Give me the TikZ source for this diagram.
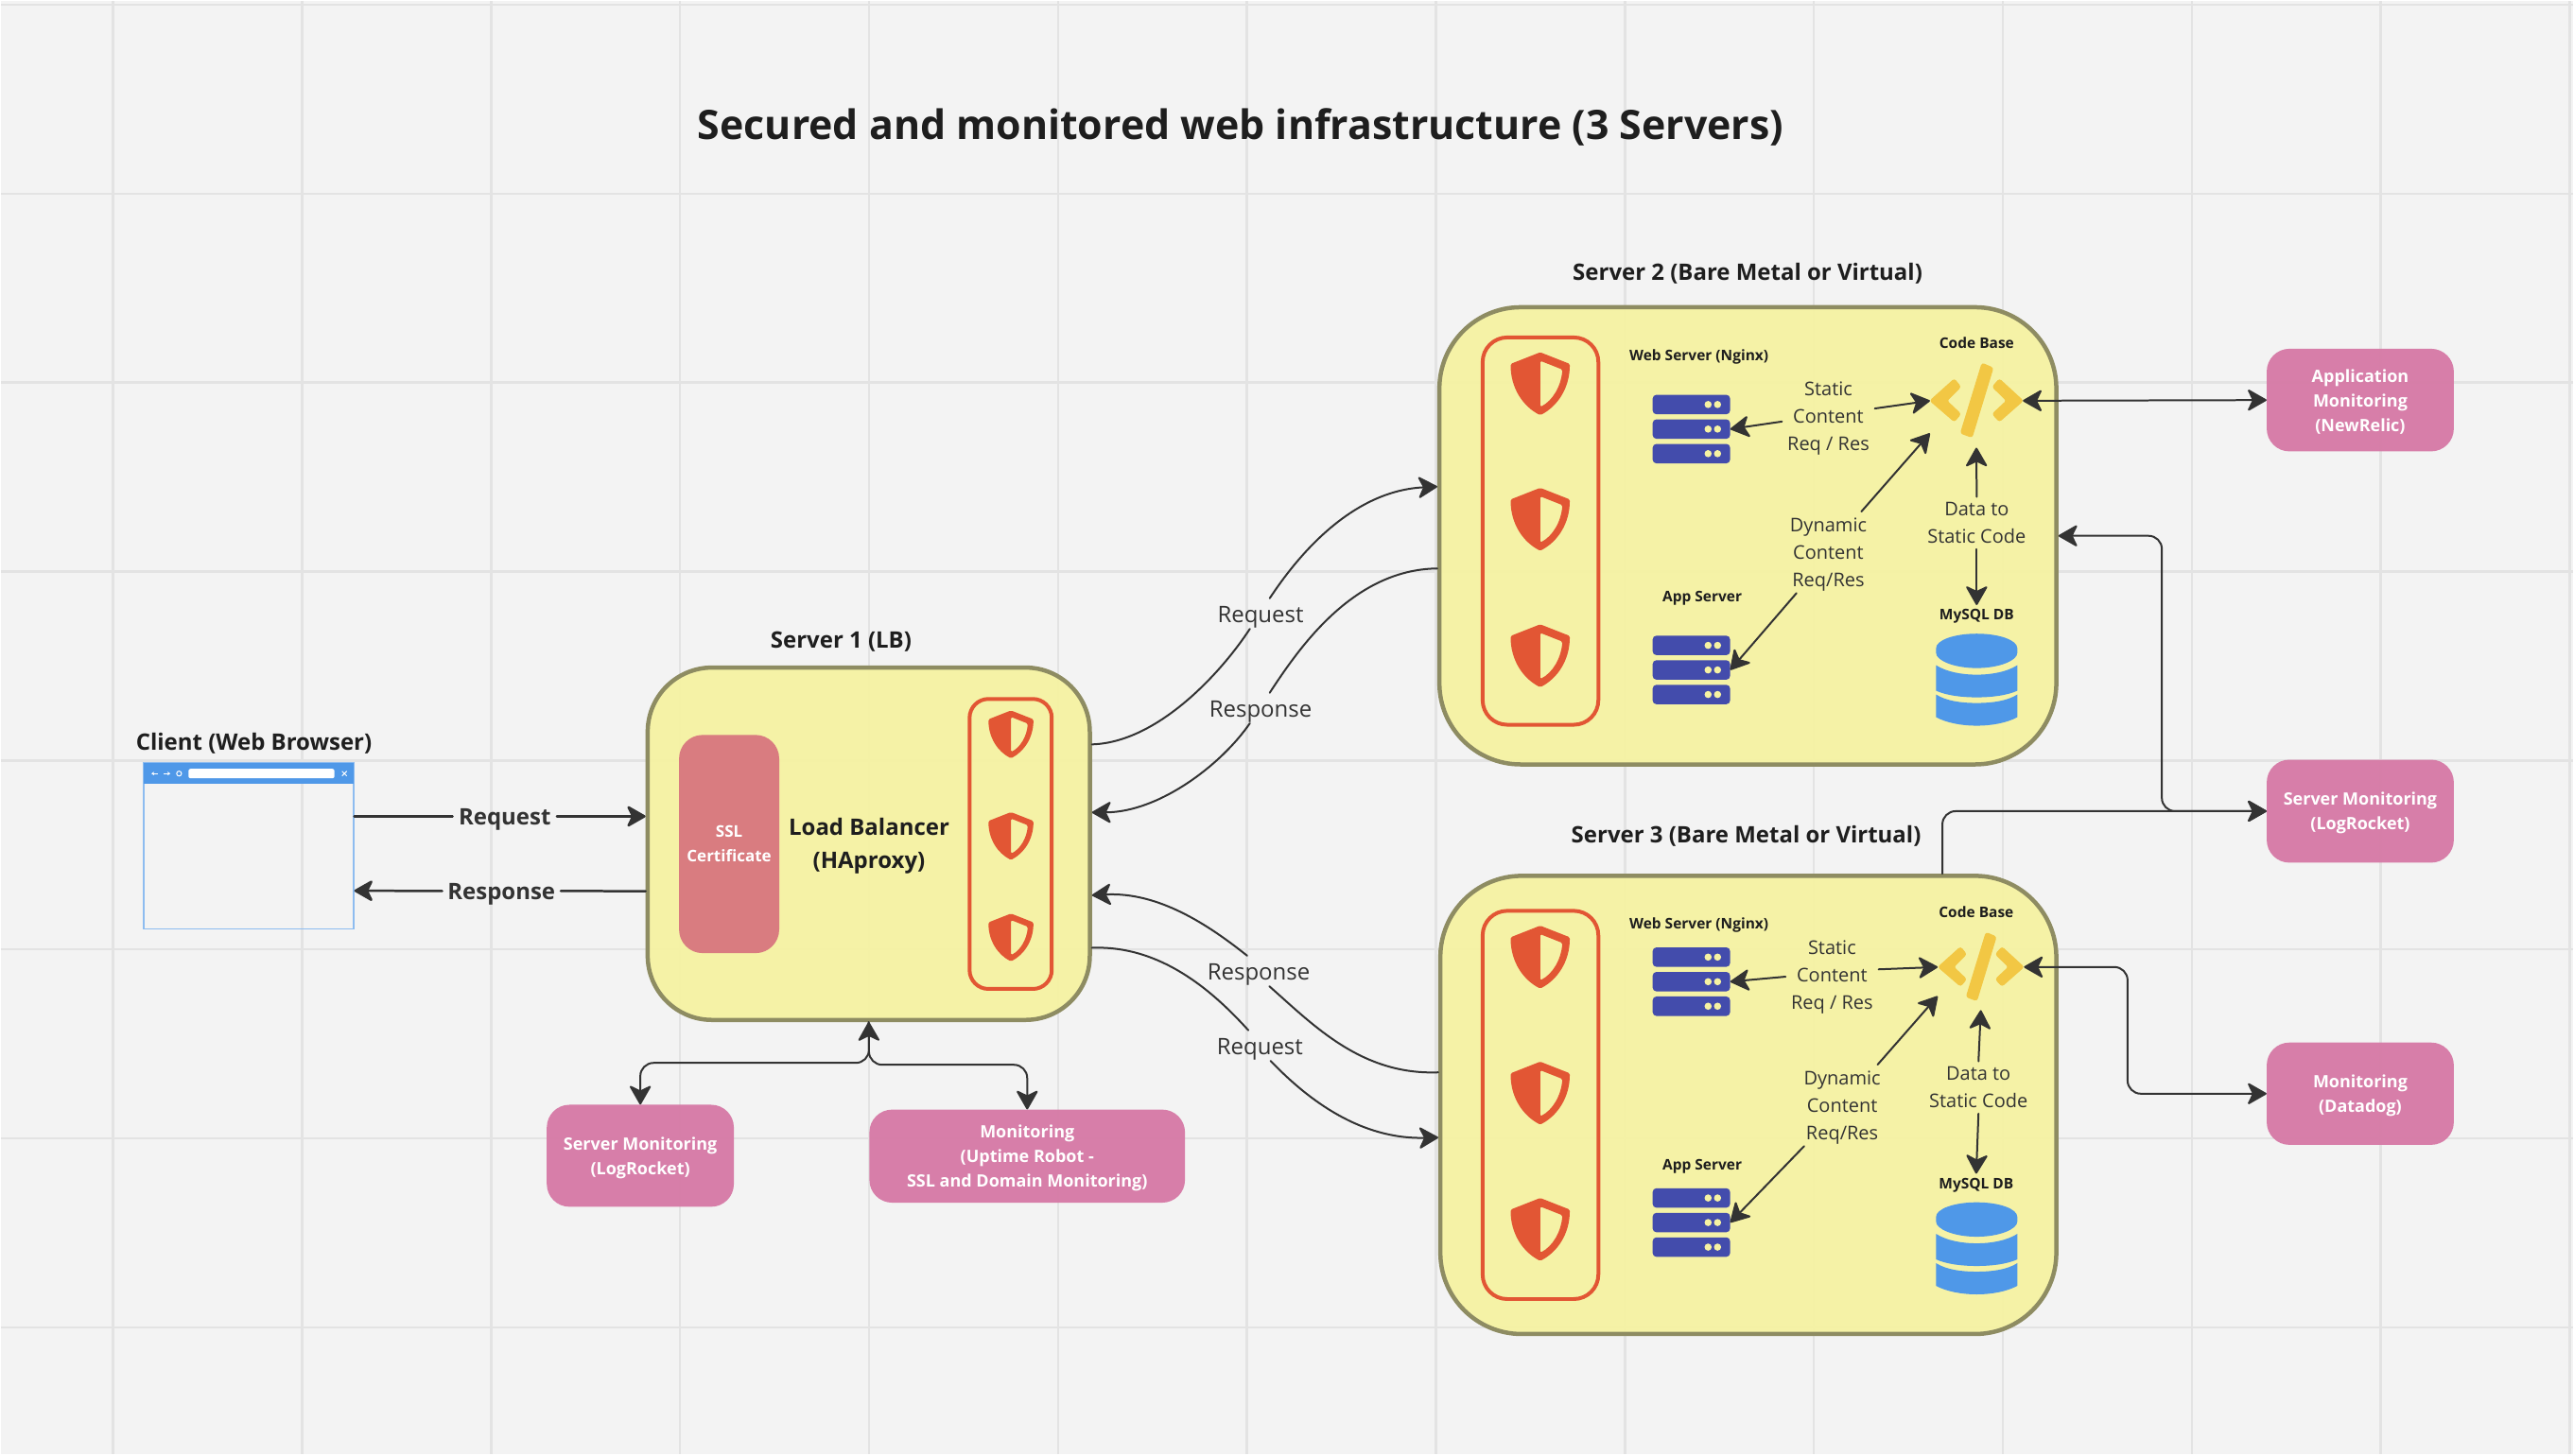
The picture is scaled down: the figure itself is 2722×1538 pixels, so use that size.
\documentclass[tikz,border=0pt]{standalone}
\usepackage{fontspec}
\setmainfont{Open Sans}
\usetikzlibrary{arrows.meta,calc}
\definecolor{boardbg}{HTML}{F3F3F3}
\definecolor{boardgrid}{HTML}{E3E3E3}
\definecolor{boardink}{HTML}{1E1E1E}
\definecolor{flowink}{HTML}{333333}
\definecolor{serveryellow}{HTML}{F6F2A2}
\definecolor{serverline}{HTML}{8E8C62}
\definecolor{shieldred}{HTML}{E25634}
\definecolor{monitorpink}{HTML}{D67AA6}
\definecolor{sslrose}{HTML}{D97C80}
\definecolor{rackblue}{HTML}{434CAC}
\definecolor{dbblue}{HTML}{4F98E8}
\definecolor{codegold}{HTML}{F2C744}
\newcommand{\firstline}{\rule{0pt}{1em}}
\tikzset{
  serverbox/.style={draw=serverline, fill=serveryellow, fill opacity=.94, line width=4.5pt, inner sep=0pt},
  shieldpanel/.style={draw=shieldred, line width=4pt, rounded corners=26pt, inner sep=0pt},
  monitorbox/.style={fill=monitorpink, fill opacity=.96, text opacity=1, text=white, rounded corners=24pt,
    inner sep=0pt, align=center, font=\fontsize{18}{26}\selectfont\bfseries},
  bigtitle/.style={font=\fontsize{42.9}{48}\selectfont\bfseries, text=boardink, inner sep=0pt},
  servertitle/.style={font=\fontsize{24}{30}\selectfont\bfseries, text=boardink, inner sep=0pt},
  parttitle/.style={font=\fontsize{15.5}{20}\selectfont\bfseries, text=boardink, inner sep=0pt},
  flowlabel/.style={font=\fontsize{20}{29}\selectfont, text=flowink, align=center, inner sep=0pt},
  wirelabel/.style={font=\fontsize{24}{30}\selectfont, text=flowink, inner sep=0pt, text height=25.5pt, text depth=6.5pt},
  clientlabel/.style={font=\fontsize{24}{30}\selectfont\bfseries, text=flowink, inner sep=0pt, text height=25.5pt, text depth=6.5pt},
  iconspot/.style={inner sep=0pt},
  wire/.style={draw=flowink, line width=2pt, line cap=round},
  flowto/.style={wire, -{Stealth[length=22pt,width=25pt,inset=6pt,round]}},
  flowfrom/.style={wire, {Stealth[length=22pt,width=25pt,inset=6pt,round]}-},
  flowboth/.style={wire, {Stealth[length=22pt,width=25pt,inset=6pt,round]}-{Stealth[length=22pt,width=25pt,inset=6pt,round]}},
  shieldicon/.pic={
    \fill[shieldred, even odd rule, rounded corners=1.5pt]
      (0,-33.3) -- (31.3,-21) .. controls (31.3,5) and (18,24) .. (0,33.3)
      .. controls (-18,24) and (-31.3,5) .. (-31.3,-21) -- cycle
      (0,-24.3) -- (23.5,-15) .. controls (22,3) and (13,18) .. (0,24.6) -- cycle;
  },
  rackicon/.pic={
    \foreach \r in {-26,0,26} {
      \fill[rackblue, rounded corners=4pt] (-41,\r-10.3) rectangle (41,\r+10.3);
      \fill[serveryellow] (17.7,\r) circle (3.8) (27.7,\r) circle (3.8);
    }
  },
  codeicon/.pic={
    \filldraw[codegold, line width=1pt, rounded corners=2.5pt] (-49,0) -- (-23.4,-23) -- (-16.7,-14.7) -- (-31.4,0) -- (-16.7,14) -- (-23.4,22) -- cycle;
    \filldraw[codegold, line width=1pt, rounded corners=2.5pt] (6,-39.7) -- (17.6,-34.7) -- (-4.7,38.7) -- (-16.7,34.3) -- cycle;
    \filldraw[codegold, line width=1pt, rounded corners=2.5pt] (49.3,0) -- (24.3,-23) -- (17,-14.7) -- (32,0) -- (17,14) -- (24.3,22) -- cycle;
  },
  dbicon/.pic={
    \fill[dbblue] (-43,-33) .. controls (-43,-41.5) and (-24,-48.4) .. (0,-48.4)
      .. controls (24,-48.4) and (43,-41.5) .. (43,-33) -- (43,-28)
      .. controls (43,-20) and (24,-12) .. (0,-12) .. controls (-24,-12) and (-43,-20) .. (-43,-28) -- cycle;
    \fill[dbblue] (-43,-15) .. controls (-32,-8) and (-16,-5) .. (0,-5) .. controls (16,-5) and (32,-8) .. (43,-15)
      -- (43,12) .. controls (32,17) and (16,19) .. (0,19) .. controls (-16,19) and (-32,17) .. (-43,12) -- cycle;
    \fill[dbblue] (-43,16) .. controls (-32,23) and (-16,25) .. (0,25) .. controls (16,25) and (32,23) .. (43,16)
      -- (43,40) .. controls (32,46) and (16,49) .. (0,49) .. controls (-16,49) and (-32,46) .. (-43,40) -- cycle;
  }
}
\begin{document}
\begin{tikzpicture}[x=1pt,y=-1pt]
  % board and its grid
  \fill[boardbg] (0,0) rectangle (2722,1538);
  \foreach \k in {0,...,13} {
    \draw[boardgrid, line width=2.5pt] ({118.6+200*\k},0) -- ({118.6+200*\k},1538);
  }
  \foreach \k in {0,...,7} {
    \draw[boardgrid, line width=2.5pt] (0,{3.8+200*\k}) -- (2722,{3.8+200*\k});
  }
  \useasboundingbox (0,0) rectangle (2722,1538);
  \node[bigtitle] (maintitle) at (1312,133) {Secured and monitored web infrastructure (3 Servers)};

  % client
  \node[servertitle] (clienttitle) at (267.5,786) {Client (Web Browser)};
  \node[draw=dbblue!65, line width=1.5pt, minimum width=222pt, minimum height=176pt, inner sep=0pt] (browser) at (262,894.3) {};
  \fill[dbblue] (150.5,806) rectangle (373.5,828.3);
  \fill[white, rounded corners=2pt] (198.3,812.7) rectangle (352.7,822.7);
  \draw[white, line width=1pt, -{Stealth[length=3pt,width=4pt]}] (166,817.7) -- (159,817.7);
  \draw[white, line width=1pt, -{Stealth[length=3pt,width=4pt]}] (172,817.7) -- (179,817.7);
  \draw[white, line width=1pt] (188.3,817.7) circle (2.6);
  \draw[white, line width=1pt] (360.8,815.2) -- (365.8,820.2) (360.8,820.2) -- (365.8,815.2);

  % server 1
  \node[servertitle] (lbtitle) at (889,678.5) {Server 1 (LB)};
  \node[serverbox, rounded corners=68pt, minimum width=468pt, minimum height=373pt] (lb) at (918.3,892) {};
  \node[fill=sslrose, text=white, rounded corners=25pt, minimum width=106pt, minimum height=231pt, inner sep=0pt,
    align=center, font=\fontsize{17}{26}\selectfont\bfseries] (ssl) at (770.5,892.3) {SSL\\Certificate};
  \node[font=\fontsize{24}{35}\selectfont\bfseries, text=boardink, align=center, inner sep=0pt] (haproxy) at (918.6,894) {Load Balancer\\(HAproxy)};
  \node[shieldpanel, rounded corners=20pt, minimum width=87pt, minimum height=307pt] (lbpanel) at (1068.5,892.2) {};
  \foreach \y in {776.2,883.8,991.2} {
    \pic[scale=.76] at (1068.8,\y) {shieldicon};
  }
  \node[monitorbox, minimum width=198pt, minimum height=108pt] (srvmonlb) at (676.5,1222.3) {\firstline Server Monitoring\\(LogRocket)};
  \node[monitorbox, minimum width=334pt, minimum height=98.5pt] (uptimemon) at (1086,1222.7) {\firstline Monitoring\\(Uptime Robot -\\SSL and Domain Monitoring)};

  % server 2
  \node[servertitle] (s2title) at (1848.5,288) {Server 2 (Bare Metal or Virtual)};
  \node[serverbox, rounded corners=86pt, minimum width=653pt, minimum height=484pt] (s2box) at (1848.8,566) {};
  \node[shieldpanel, minimum width=122.5pt, minimum height=410pt] (s2panel) at (1629.3,561) {};
  \foreach \y in {405,548.5,693} {
    \pic at (1629,\y) {shieldicon};
  }
  \node[parttitle] (s2webtitle) at (1797,377) {Web Server (Nginx)};
  \node[iconspot, minimum width=82pt, minimum height=72pt] (web2) at (1789,453) {};
  \pic at (web2) {rackicon};
  \node[parttitle] (s2apptitle) at (1800.5,631.7) {App Server};
  \node[iconspot, minimum width=82pt, minimum height=72pt] (app2) at (1789,708) {};
  \pic at (app2) {rackicon};
  \node[parttitle] (s2codetitle) at (2091,361.5) {Code Base};
  \node[iconspot, minimum width=98pt, minimum height=99pt] (code2) at (2090.7,423) {};
  \pic at (code2) {codeicon};
  \node[parttitle, minimum height=24pt] (s2dbtitle) at (2091,651.5) {MySQL DB};
  \pic at (2091,718) {dbicon};
  \node[flowlabel, minimum width=98pt] (static2) at (1934,439) {\firstline Static\\Content\\Req / Res};
  \node[flowlabel, minimum width=100pt, minimum height=86pt] (dynamic2) at (1934,583.5) {\firstline Dynamic\\Content\\Req/Res};
  \node[flowlabel, minimum height=55pt] (data2) at (2091,552.5) {Data to\\Static Code};

  % server 3
  \node[servertitle] (s3title) at (1847,884) {Server 3 (Bare Metal or Virtual)};
  \node[serverbox, rounded corners=86pt, minimum width=652pt, minimum height=485pt] (s3box) at (1849.3,1168.5) {};
  \node[shieldpanel, minimum width=122.5pt, minimum height=411pt] (s3panel) at (1629.3,1168.5) {};
  \foreach \y in {1012,1156,1300.3} {
    \pic at (1629,\y) {shieldicon};
  }
  \node[parttitle] (s3webtitle) at (1797,978) {Web Server (Nginx)};
  \node[iconspot, minimum width=82pt, minimum height=72pt] (web3) at (1789,1038) {};
  \pic at (web3) {rackicon};
  \node[parttitle] (s3apptitle) at (1800.5,1233.6) {App Server};
  \node[iconspot, minimum width=82pt, minimum height=72pt] (app3) at (1789,1293) {};
  \pic at (app3) {rackicon};
  \node[parttitle] (s3codetitle) at (2090.5,964.8) {Code Base};
  \node[iconspot, minimum width=91pt, minimum height=91pt] (code3) at (2095.4,1022.5) {};
  \pic[scale=.92] at (code3) {codeicon};
  \node[parttitle, minimum height=24pt] (s3dbtitle) at (2090.5,1253.5) {MySQL DB};
  \pic at (2091,1320) {dbicon};
  \node[flowlabel, minimum width=98pt] (static3) at (1937.9,1031) {\firstline Static\\Content\\Req / Res};
  \node[flowlabel, minimum width=100pt, minimum height=86pt] (dynamic3) at (1948.6,1169) {\firstline Dynamic\\Content\\Req/Res};
  \node[flowlabel, minimum height=55pt] (data3) at (2092.9,1150) {Data to\\Static Code};

  % monitoring boxes on the right
  \node[monitorbox, minimum width=198pt, minimum height=108.6pt] (appmon) at (2497,422.3) {\firstline Application\\Monitoring\\(NewRelic)};
  \node[monitorbox, minimum width=198pt, minimum height=109pt] (srvmon) at (2497,857.5) {\firstline Server Monitoring\\(LogRocket)};
  \node[monitorbox, minimum width=198pt, minimum height=108.3pt] (datadog) at (2497,1156.6) {\firstline Monitoring\\(Datadog)};

  % wires inside the servers
  \draw[flowto] (static2.187.5) -- (web2.east);
  \draw[flowto] (static2.9.6) -- (code2.west);
  \draw[flowto] (dynamic2.51) -- (code2.215);
  \draw[flowto] (dynamic2.232.8) -- (app2.east);
  \draw[flowto] (data2.north) -- (code2.south);
  \draw[flowto] (data2.south) -- (s2dbtitle.north);
  \draw[flowto] (static3.182.7) -- (web3.east);
  \draw[flowto] (static3.7) -- (code3.west);
  \draw[flowto] (dynamic3.49.6) -- (code3.214.3);
  \draw[flowto] (dynamic3.227.5) -- (app3.east);
  \draw[flowto] (data3.north) -- (code3.south);
  \draw[flowto] (data3.south) -- (s3dbtitle.north);

  % client to load balancer
  \node[clientlabel, minimum width=110pt] (clientreq) at (533,863) {Request};
  \node[clientlabel, minimum width=125pt] (clientres) at (529.5,942) {Response};
  \draw[wire, line width=2.5pt] (browser.east |- clientreq.west) -- (clientreq.west);
  \draw[flowto, line width=2.5pt] (clientreq.east) -- (lb.west |- clientreq.east);
  \draw[flowfrom, line width=2.5pt] (browser.337.2) -- (clientres.west);
  \draw[wire, line width=2.5pt] (clientres.east) -- (lb.192.5);

  % load balancer monitors
  \coordinate (forkleft) at (918.6,1124);
  \coordinate (forkright) at (918.6,1126);
  \draw[flowboth, rounded corners=14pt] (lb.south) -- (forkleft) -| (srvmonlb.north);
  \draw[flowto, rounded corners=14pt] (lb.south) -- (forkright) -| (uptimemon.north);

  % load balancer to server 2
  \node[wirelabel, minimum width=90pt] (req2) at (1333,648.3) {Request};
  \node[wirelabel, minimum width=110pt] (res2) at (1333,748.3) {Response};
  \draw[wire] (lb.24.3) .. controls (1225,784.7) and (1292.7,709) .. (req2.235);
  \draw[flowto] (req2.59) .. controls (1373,586) and (1430,518.3) .. (s2box.171.7);
  \draw[flowfrom] (lb.8.1) .. controls (1225,858.7) and (1291,809) .. (res2.235);
  \draw[wire] (res2.59) .. controls (1373,686) and (1430,601.7) .. (s2box.186.2);

  % server 3 to load balancer
  \node[wirelabel, minimum width=108pt] (res3) at (1331,1026.7) {Response};
  \node[wirelabel, minimum width=90pt] (req3) at (1332.3,1105.7) {Request};
  \draw[flowfrom] (lb.347.8) .. controls (1225,942.7) and (1278,978) .. (res3.127);
  \draw[wire] (res3.305) .. controls (1390,1085) and (1440,1137) .. (s3box.174.5);
  \draw[wire] (lb.335.4) .. controls (1225,999.3) and (1280,1045) .. (req3.127);
  \draw[flowto] (req3.305) .. controls (1385,1165) and (1440,1205) .. (s3box.186.4);

  % right side
  \coordinate (s2elbow) at (2287,566);
  \coordinate (s3elbow) at (2250.7,1022.5);
  \draw[flowboth] (code2.east) -- (appmon.west);
  \draw[flowboth, rounded corners=14pt] (s2box.east) -- (s2elbow) |- (srvmon.west);
  \draw[flowto, rounded corners=14pt] (s3box.50) |- (srvmon.west);
  \draw[flowboth, rounded corners=14pt] (code3.east) -- (s3elbow) |- (datadog.west);
\end{tikzpicture}
\end{document}
